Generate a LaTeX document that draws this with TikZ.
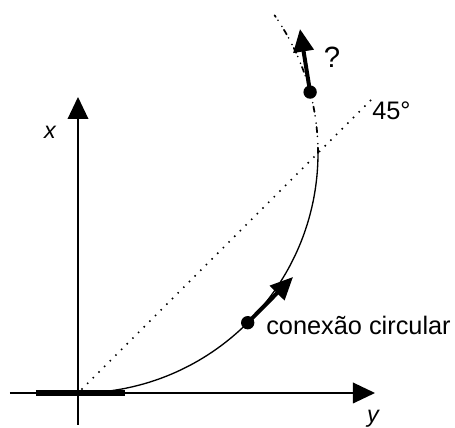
\documentclass[tikz,border=0pt]{standalone}
\usepackage{fontspec}
\setmainfont{Liberation Sans}
\usetikzlibrary{arrows.meta,calc}
\begin{document}
\begin{tikzpicture}[x=0.75pt, y=0.75pt,
		axis/.style={line width=1pt, -{Triangle[length=16.5pt,width=15.5pt]}},
		bigarrow/.style={line width=3pt, -{Triangle[length=17pt,width=15pt]}},
		dotline/.style={line width=1.6pt, line cap=round, dash pattern=on 0pt off 6pt},
		dashdotline/.style={line width=1.3pt, line cap=round, dash pattern=on 4pt off 3pt on 0pt off 5.5pt on 0pt off 3pt},
		blob/.style={circle, fill, inner sep=0pt, minimum size=10pt},
		lbl/.style={font=\fontsize{19}{23}\selectfont, inner sep=0pt}]
	\useasboundingbox (-78,-35) rectangle (377,393);
	% axes
	\coordinate (O) at (0,0);
	\coordinate (C) at (0,240);
	\draw[axis] (-68,0) -- (297,0);
	\draw[axis] (0,-32) -- (0,296);
	\draw[line width=4.5pt] (-42,0) -- (47,0);
	\node[lbl, font=\fontsize{17.5}{21}\selectfont\itshape] (xlab) at (-28,261) {x};
	\node[lbl, font=\fontsize{17.5}{21}\selectfont\itshape] (ylab) at (295,-26) {y};
	% 45 degree line
	\draw[dotline] (4,4) -- (293,293);
	\node[lbl, anchor=west] (angle) at (294,282) {45°};
	% circular arc and its continuation
	\draw[line width=1pt] (O) arc (-90:0:240);
	\draw[dashdotline] (240,240) arc (0:35:240);
	% points with their directions
	\node[blob] (low) at ($(C)+(-45:240)$) {};
	\node[blob] (high) at ($(C)+(14.7:240)$) {};
	\coordinate (lowtip) at (215,116);
	\coordinate (hightip) at (222,364);
	\draw[bigarrow] (low.center) -- (lowtip);
	\draw[bigarrow] (high.center) -- (hightip);
	\node[lbl, anchor=east] (circ) at (373,68) {conexão circular};
	\node[lbl, font=\fontsize{22}{26}\selectfont] (quest) at (254,336) {?};
\end{tikzpicture}
\end{document}
